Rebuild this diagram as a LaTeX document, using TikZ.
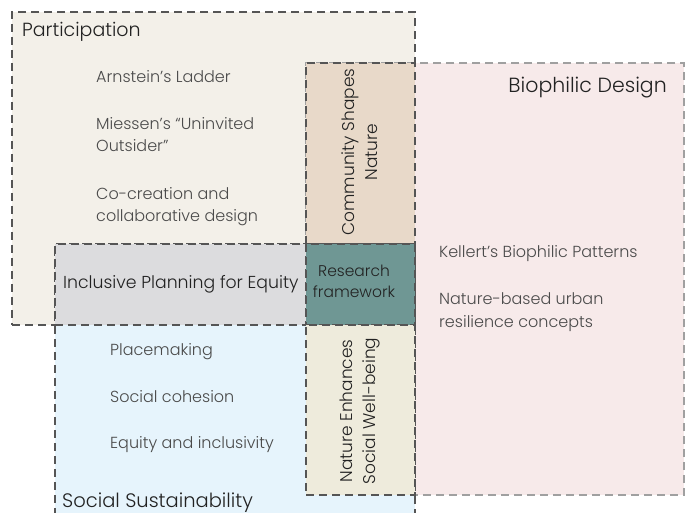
\documentclass[tikz,border=0pt]{standalone}
\usepackage{fontspec}
\setmainfont{Poppins Light}
\usepackage{tikz}
\definecolor{partfill}{HTML}{F3F0E9}
\definecolor{biofill}{HTML}{F7EAEA}
\definecolor{socfill}{HTML}{E6F4FC}
\definecolor{commfill}{HTML}{E8D9C9}
\definecolor{incfill}{HTML}{DCDCDE}
\definecolor{resfill}{HTML}{6F9794}
\definecolor{natfill}{HTML}{EEEBDC}
\definecolor{linegray}{HTML}{555555}
\definecolor{lightline}{HTML}{A0A0A0}
\definecolor{titlegray}{HTML}{222222}
\definecolor{itemgray}{HTML}{4A4A4A}
\tikzstyle{region} = [rectangle, anchor=north west, inner sep=0pt, outer sep=0pt, line width=1.1pt, dash pattern=on 8pt off 5pt]
\tikzstyle{title} = [anchor=base west, inner sep=0pt, text=titlegray, font=\fontsize{19.5}{22}\selectfont]
\tikzstyle{item} = [anchor=base west, inner sep=0pt, align=left, text=itemgray, font=\fontsize{16}{22.5}\selectfont]
\tikzstyle{vlabel} = [rotate=90, inner sep=0pt, align=center, text=titlegray, font=\fontsize{17}{23}\selectfont]

\begin{document}
\begin{tikzpicture}[x=1pt, y=-1pt]
 \useasboundingbox (0,0) rectangle (688,513);
 \clip (0,0) rectangle (688,513);
 % areas
    \node [region, fill=partfill, draw=linegray, minimum width=403pt, minimum height=313pt, name=participation] at (12,12) {};
    \node [region, fill=biofill, draw=lightline, minimum width=378pt, minimum height=432pt, name=biophilic] at (306,63) {};
    \node [region, fill=socfill, draw=linegray, minimum width=360pt, minimum height=290pt, name=social] at (55,244) {};
 % overlaps
    \node [region, fill=commfill, draw=linegray, minimum width=109pt, minimum height=181pt, name=community] at (306,63) {};
    \node [region, fill=incfill, draw=linegray, minimum width=251pt, minimum height=81pt, name=inclusive] at (55,244) {};
    \node [region, fill=resfill, draw=linegray, minimum width=109pt, minimum height=81pt, name=research] at (306,244) {};
    \node [region, fill=natfill, draw=linegray, minimum width=109pt, minimum height=170pt, name=nature] at (306,325) {};
 % titles
    \node [title, font=\fontsize{19}{22}\selectfont, name=parttitle] at (22,37) {Participation};
    \node [title, anchor=base east, font=\fontsize{20.5}{22}\selectfont, name=biotitle] at (667,93) {Biophilic Design};
    \node [title, name=soctitle] at (62,507) {Social Sustainability};
 % participation items (two-line nodes sit on their last baseline)
    \node [item, name=arnstein] at (96,83) {Arnstein’s Ladder};
    \node [item, name=miessen] at (96,152) {Miessen’s “Uninvited\\Outsider”};
    \node [item, name=cocreation] at (96,222) {Co-creation and\\collaborative design};
 % biophilic items
    \node [item, name=kellert] at (439,258) {Kellert’s Biophilic Patterns};
    \node [item, name=resilience] at (439,327) {Nature-based urban\\resilience concepts};
 % social items
    \node [item, name=placemaking] at (110,355) {Placemaking};
    \node [item, name=cohesion] at (110,402) {Social cohesion};
    \node [item, name=equity] at (110,448) {Equity and inclusivity};
 % overlap labels
    \node [title, font=\fontsize{17.3}{22}\selectfont, name=inclabel] at (63,288) {Inclusive Planning for Equity};
    \node [inner sep=0pt, align=center, text=titlegray, font=\fontsize{15.5}{21}\selectfont, name=reslabel] at (354,281) {Research\\framework};
    \node [vlabel, name=commlabel] at (360,152) {Community Shapes\\Nature};
    \node [vlabel, name=natlabel] at (360,411) {Nature Enhances\\Social Well-being};
\end{tikzpicture}
\end{document}
